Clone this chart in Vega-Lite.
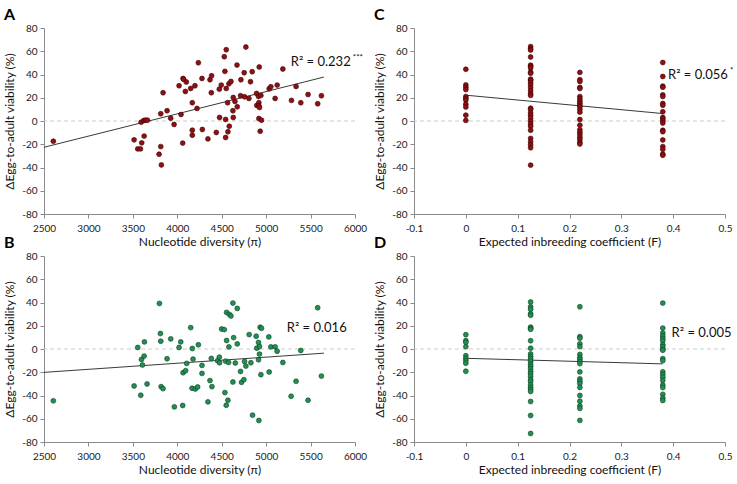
{
  "$schema": "https://vega.github.io/schema/vega-lite/v6.json",
  "padding": {"left": 3, "top": 7, "right": 5, "bottom": 5},
  "background": "white",
  "bounds": "flush",
  "columns": 2,
  "spacing": {"row": 42, "column": 59},
  "datasets": {
    "ptsA": [
      {"pi":2605,"v":-17.4},{"pi":3514,"v":-16.2},{"pi":3555,"v":-24},{"pi":3585,"v":-24},{"pi":3600,"v":-18.8},
      {"pi":3627,"v":-13},{"pi":3593,"v":-1},{"pi":3623,"v":0.4},{"pi":3641,"v":0.7},{"pi":3664,"v":0.7},
      {"pi":3795,"v":-28.6},{"pi":3814,"v":-22},{"pi":3821,"v":-37.8},{"pi":3814,"v":6.2},{"pi":3840,"v":24.3},
      {"pi":3885,"v":8.8},{"pi":3926,"v":2.4},{"pi":3964,"v":-3},{"pi":4020,"v":30.3},{"pi":4042,"v":5.6},
      {"pi":4065,"v":36.6},{"pi":4072,"v":35.8},{"pi":4061,"v":-19},{"pi":4091,"v":25.4},{"pi":4102,"v":33.5},
      {"pi":4151,"v":28},{"pi":4169,"v":15.7},{"pi":4169,"v":-7.9},{"pi":4169,"v":-12.2},{"pi":4199,"v":30.3},
      {"pi":4222,"v":10.8},{"pi":4237,"v":50.1},{"pi":4278,"v":36.6},{"pi":4282,"v":-7.3},{"pi":4345,"v":-15.4},
      {"pi":4368,"v":35.5},{"pi":4386,"v":38.9},{"pi":4383,"v":24.3},{"pi":4439,"v":-9.9},{"pi":4473,"v":27.4},
      {"pi":4476,"v":3},{"pi":4495,"v":30.9},{"pi":4529,"v":55.3},{"pi":4536,"v":42.7},{"pi":4544,"v":1.3},
      {"pi":4544,"v":-14.2},{"pi":4551,"v":61.3},{"pi":4551,"v":28},{"pi":4566,"v":15.7},{"pi":4570,"v":-9.3},
      {"pi":4585,"v":-4.5},{"pi":4581,"v":32},{"pi":4604,"v":34},{"pi":4626,"v":8.8},{"pi":4630,"v":20.2},
      {"pi":4630,"v":3},{"pi":4649,"v":16.8},{"pi":4675,"v":12.2},{"pi":4672,"v":48.1},{"pi":4716,"v":35.5},
      {"pi":4712,"v":21.7},{"pi":4753,"v":41.5},{"pi":4757,"v":20.8},{"pi":4772,"v":63.6},{"pi":4806,"v":19.4},
      {"pi":4824,"v":33.8},{"pi":4843,"v":42.4},{"pi":4892,"v":23.7},{"pi":4895,"v":13.4},{"pi":4918,"v":15.7},
      {"pi":4914,"v":21.1},{"pi":4922,"v":46.4},{"pi":4918,"v":13.1},{"pi":4925,"v":11.6},{"pi":4918,"v":2.1},
      {"pi":4941,"v":22},{"pi":4933,"v":-8.8},{"pi":4948,"v":0.7},{"pi":5034,"v":27.7},{"pi":5053,"v":29.4},
      {"pi":5101,"v":19.4},{"pi":5124,"v":30.9},{"pi":5188,"v":44.7},{"pi":5285,"v":17.7},{"pi":5337,"v":29.7},
      {"pi":5390,"v":15.7},{"pi":5472,"v":22.8},{"pi":5580,"v":14.8},{"pi":5622,"v":21.7}
    ],
    "ptsB": [
      {"pi":2605,"v":-44.6},{"pi":3514,"v":-31.8},{"pi":3555,"v":1.3},{"pi":3589,"v":-39.8},{"pi":3597,"v":-9},
      {"pi":3608,"v":-13.8},{"pi":3627,"v":-6.1},{"pi":3630,"v":6.1},{"pi":3660,"v":-30.1},{"pi":3799,"v":39.2},
      {"pi":3810,"v":13.3},{"pi":3814,"v":6.7},{"pi":3818,"v":-32.4},{"pi":3840,"v":-34.1},{"pi":3885,"v":-8.4},
      {"pi":3926,"v":8.7},{"pi":3967,"v":-49.8},{"pi":4020,"v":1.3},{"pi":4039,"v":6.1},{"pi":4061,"v":-48.6},
      {"pi":4065,"v":-20.4},{"pi":4094,"v":-18.7},{"pi":4106,"v":-12.4},{"pi":4151,"v":18.4},{"pi":4166,"v":-33.8},
      {"pi":4169,"v":0.4},{"pi":4177,"v":-8.7},{"pi":4203,"v":-34.4},{"pi":4229,"v":-32.7},{"pi":4237,"v":3.6},
      {"pi":4278,"v":-14.1},{"pi":4278,"v":-21},{"pi":4345,"v":-45.5},{"pi":4368,"v":-27.2},{"pi":4383,"v":-8.1},
      {"pi":4390,"v":-32.4},{"pi":4454,"v":-10.1},{"pi":4473,"v":-7},{"pi":4476,"v":-11.8},{"pi":4499,"v":17.2},
      {"pi":4529,"v":16.7},{"pi":4536,"v":-37.5},{"pi":4544,"v":-10.4},{"pi":4551,"v":-48.4},{"pi":4555,"v":7.3},
      {"pi":4555,"v":31.5},{"pi":4570,"v":-44.1},{"pi":4577,"v":-11.6},{"pi":4581,"v":1.8},{"pi":4585,"v":29.8},
      {"pi":4604,"v":28.4},{"pi":4626,"v":-28.4},{"pi":4626,"v":39.5},{"pi":4634,"v":9.8},{"pi":4653,"v":-12.1},
      {"pi":4675,"v":34.9},{"pi":4675,"v":4.4},{"pi":4712,"v":-19.3},{"pi":4723,"v":-28.7},{"pi":4749,"v":-26.4},
      {"pi":4757,"v":-10.7},{"pi":4772,"v":-14.7},{"pi":4809,"v":12.4},{"pi":4828,"v":-11.8},{"pi":4847,"v":-56.9},
      {"pi":4888,"v":11},{"pi":4895,"v":0.7},{"pi":4914,"v":-9.3},{"pi":4914,"v":5.6},{"pi":4918,"v":-61.5},
      {"pi":4925,"v":2.1},{"pi":4925,"v":-4.4},{"pi":4933,"v":18.7},{"pi":4948,"v":17.8},{"pi":4941,"v":-22.1},
      {"pi":5030,"v":10.4},{"pi":5053,"v":1.8},{"pi":5034,"v":-19.8},{"pi":5101,"v":1.8},{"pi":5124,"v":-1.9},
      {"pi":5188,"v":-11.6},{"pi":5281,"v":-40.7},{"pi":5337,"v":-27.8},{"pi":5390,"v":-1.3},{"pi":5472,"v":-44.1},
      {"pi":5580,"v":35.5},{"pi":5622,"v":-23.3}
    ],
    "ptsC": [
      {"F":0,"v":44.5},{"F":0,"v":31},{"F":0,"v":29},{"F":0,"v":27},{"F":0,"v":21},{"F":0,"v":19.5},{"F":0,"v":18},{"F":0,"v":14.5},{"F":0,"v":12},{"F":0,"v":5},{"F":0,"v":0.5},
      {"F":0.125,"v":64},{"F":0.125,"v":62},{"F":0.125,"v":61},{"F":0.125,"v":55},{"F":0.125,"v":48},{"F":0.125,"v":47},{"F":0.125,"v":45.5},{"F":0.125,"v":42},{"F":0.125,"v":41},{"F":0.125,"v":36},
      {"F":0.125,"v":35},{"F":0.125,"v":33},{"F":0.125,"v":31},{"F":0.125,"v":28.5},{"F":0.125,"v":26},{"F":0.125,"v":23.5},{"F":0.125,"v":22},{"F":0.125,"v":11},{"F":0.125,"v":10},{"F":0.125,"v":7},
      {"F":0.125,"v":5},{"F":0.125,"v":2.5},{"F":0.125,"v":0},{"F":0.125,"v":-2.5},{"F":0.125,"v":-4.5},{"F":0.125,"v":-8},{"F":0.125,"v":-15},{"F":0.125,"v":-18},{"F":0.125,"v":-20.5},{"F":0.125,"v":-23},{"F":0.125,"v":-38},
      {"F":0.22,"v":41.8},{"F":0.22,"v":35.5},{"F":0.22,"v":34},{"F":0.22,"v":28.8},{"F":0.22,"v":28},{"F":0.22,"v":21},{"F":0.22,"v":19},{"F":0.22,"v":17},{"F":0.22,"v":15.3},{"F":0.22,"v":13.6},{"F":0.22,"v":12.2},
      {"F":0.22,"v":9.9},{"F":0.22,"v":7.6},{"F":0.22,"v":1.3},{"F":0.22,"v":-3.6},{"F":0.22,"v":-7.6},{"F":0.22,"v":-9.6},{"F":0.22,"v":-11.6},{"F":0.22,"v":-13.9},{"F":0.22,"v":-15.9},{"F":0.22,"v":-18.2},{"F":0.22,"v":-19.8},
      {"F":0.38,"v":50.3},{"F":0.38,"v":38.3},{"F":0.38,"v":30},{"F":0.38,"v":29},{"F":0.38,"v":22.5},{"F":0.38,"v":21},{"F":0.38,"v":15},{"F":0.38,"v":13.5},{"F":0.38,"v":7.9},{"F":0.38,"v":3},
      {"F":0.38,"v":1.8},{"F":0.38,"v":0},{"F":0.38,"v":-1.8},{"F":0.38,"v":-8},{"F":0.38,"v":-9.2},{"F":0.38,"v":-16.3},{"F":0.38,"v":-22},{"F":0.38,"v":-24.4},{"F":0.38,"v":-28.5},{"F":0.38,"v":-29.5}
    ],
    "ptsD": [
      {"F":0,"v":12.3},{"F":0,"v":7.2},{"F":0,"v":5.8},{"F":0,"v":2},{"F":0,"v":-5.8},{"F":0,"v":-8.1},{"F":0,"v":-10},{"F":0,"v":-12.2},{"F":0,"v":-19.1},
      {"F":0.125,"v":40.4},{"F":0.125,"v":36.3},{"F":0.125,"v":34.2},{"F":0.125,"v":30.3},{"F":0.125,"v":29},{"F":0.125,"v":18.8},{"F":0.125,"v":17.8},{"F":0.125,"v":16.9},{"F":0.125,"v":7.1},{"F":0.125,"v":0.6},
      {"F":0.125,"v":-4.3},{"F":0.125,"v":-6.5},{"F":0.125,"v":-8.3},{"F":0.125,"v":-10.5},{"F":0.125,"v":-13},{"F":0.125,"v":-14.8},{"F":0.125,"v":-17},{"F":0.125,"v":-19.3},{"F":0.125,"v":-21.2},{"F":0.125,"v":-23.4},
      {"F":0.125,"v":-26.2},{"F":0.125,"v":-27.9},{"F":0.125,"v":-30.7},{"F":0.125,"v":-33},{"F":0.125,"v":-34.7},{"F":0.125,"v":-36.5},{"F":0.125,"v":-45.2},{"F":0.125,"v":-57.2},{"F":0.125,"v":-72.7},
      {"F":0.22,"v":36.3},{"F":0.22,"v":10.6},{"F":0.22,"v":9.3},{"F":0.22,"v":4.4},{"F":0.22,"v":2},{"F":0.22,"v":-4.7},{"F":0.22,"v":-7.4},{"F":0.22,"v":-9},{"F":0.22,"v":-10.8},{"F":0.22,"v":-12.6},
      {"F":0.22,"v":-19.7},{"F":0.22,"v":-25.7},{"F":0.22,"v":-27.7},{"F":0.22,"v":-29.7},{"F":0.22,"v":-33.1},{"F":0.22,"v":-40},{"F":0.22,"v":-44.9},{"F":0.22,"v":-49},{"F":0.22,"v":-51.1},{"F":0.22,"v":-61.4},
      {"F":0.38,"v":39.5},{"F":0.38,"v":18},{"F":0.38,"v":13.7},{"F":0.38,"v":11.2},{"F":0.38,"v":9},{"F":0.38,"v":7},{"F":0.38,"v":3.8},{"F":0.38,"v":2},{"F":0.38,"v":-0.2},{"F":0.38,"v":-1.1},
      {"F":0.38,"v":-8.3},{"F":0.38,"v":-10},{"F":0.38,"v":-19.7},{"F":0.38,"v":-22},{"F":0.38,"v":-24.3},{"F":0.38,"v":-27},{"F":0.38,"v":-31},{"F":0.38,"v":-33.2},{"F":0.38,"v":-39},{"F":0.38,"v":-42.3},{"F":0.38,"v":-44.3}
    ],
    "fitA": [{"pi":2500,"v":-22.6},{"pi":5650,"v":37.8}],
    "fitB": [{"pi":2500,"v":-20.1},{"pi":5650,"v":-3.6}],
    "fitC": [{"F":0,"v":22.2},{"F":0.38,"v":6.4}],
    "fitD": [{"F":0,"v":-8},{"F":0.38,"v":-12.8}],
    "labA": [{"pi":5277,"v":50.7,"t":"R² = 0.232","s":"***"}],
    "labB": [{"pi":5232,"v":18.4,"t":"R² = 0.016","s":""}],
    "labC": [{"F":0.39,"v":39.2,"t":"R² = 0.056","s":"*"}],
    "labD": [{"F":0.397,"v":13.4,"t":"R² = 0.005","s":""}],
    "zero": [{"v":0}]
  },
  "concat": [
    {
      "width": 311, "height": 186,
      "title": {"text": "A"},
      "layer": [
        {"data": {"name": "zero"}, "mark": {"type": "rule", "color": "#cccccc", "strokeDash": [4, 3], "strokeWidth": 1},
         "encoding": {"y": {"field": "v", "type": "quantitative", "scale": {"domain": [-80, 80], "nice": false},
                 "axis": {"title": "ΔEgg-to-adult viability (%)", "values": [-80,-60,-40,-20,0,20,40,60,80], "tickCount": 10, "labelExpr": "'' + datum.value"}}}},
        {"data": {"name": "fitA"}, "mark": {"type": "line", "color": "#222", "strokeWidth": 0.9},
         "encoding": {"x": {"field": "pi", "type": "quantitative", "scale": {"domain": [2500, 6000], "nice": false, "zero": false},
                 "axis": {"title": "Nucleotide diversity (π)", "values": [2500,3000,3500,4000,4500,5000,5500,6000], "tickCount": 10, "labelExpr": "'' + datum.value"}},
                      "y": {"field": "v", "type": "quantitative"}}},
        {"data": {"name": "ptsA"}, "mark": {"type": "point", "filled": true, "size": 24, "fill": "#8e1014", "stroke": "#3d0000", "strokeWidth": 0.6, "opacity": 1},
         "encoding": {"x": {"field": "pi", "type": "quantitative"}, "y": {"field": "v", "type": "quantitative"}}},
        {"data": {"name": "labA"}, "mark": {"type": "text", "align": "left", "baseline": "middle", "font": "Lato", "fontSize": 13, "color": "#111"},
         "encoding": {"x": {"field": "pi", "type": "quantitative"}, "y": {"field": "v", "type": "quantitative"}, "text": {"field": "t"}}},
        {"data": {"name": "labA"}, "mark": {"type": "text", "align": "left", "baseline": "middle", "font": "Lato", "fontSize": 8, "color": "#111", "dx": 62, "dy": -4},
         "encoding": {"x": {"field": "pi", "type": "quantitative"}, "y": {"field": "v", "type": "quantitative"}, "text": {"field": "s"}}}
      ]
    },
    {
      "width": 311, "height": 186,
      "title": {"text": "C"},
      "layer": [
        {"data": {"name": "zero"}, "mark": {"type": "rule", "color": "#cccccc", "strokeDash": [4, 3], "strokeWidth": 1},
         "encoding": {"y": {"field": "v", "type": "quantitative", "scale": {"domain": [-80, 80], "nice": false},
                 "axis": {"title": "ΔEgg-to-adult viability (%)", "values": [-80,-60,-40,-20,0,20,40,60,80], "tickCount": 10, "labelExpr": "'' + datum.value"}}}},
        {"data": {"name": "fitC"}, "mark": {"type": "line", "color": "#222", "strokeWidth": 0.9},
         "encoding": {"x": {"field": "F", "type": "quantitative", "scale": {"domain": [-0.1, 0.5], "nice": false, "zero": false},
                 "axis": {"title": "Expected inbreeding coefficient (F)", "values": [-0.1,0,0.1,0.2,0.3,0.4,0.5], "tickCount": 10, "labelExpr": "'' + datum.value"}},
                      "y": {"field": "v", "type": "quantitative"}}},
        {"data": {"name": "ptsC"}, "mark": {"type": "point", "filled": true, "size": 24, "fill": "#8e1014", "stroke": "#3d0000", "strokeWidth": 0.6, "opacity": 1},
         "encoding": {"x": {"field": "F", "type": "quantitative"}, "y": {"field": "v", "type": "quantitative"}}},
        {"data": {"name": "labC"}, "mark": {"type": "text", "align": "left", "baseline": "middle", "font": "Lato", "fontSize": 13, "color": "#111"},
         "encoding": {"x": {"field": "F", "type": "quantitative"}, "y": {"field": "v", "type": "quantitative"}, "text": {"field": "t"}}},
        {"data": {"name": "labC"}, "mark": {"type": "text", "align": "left", "baseline": "middle", "font": "Lato", "fontSize": 8, "color": "#111", "dx": 62, "dy": -4},
         "encoding": {"x": {"field": "F", "type": "quantitative"}, "y": {"field": "v", "type": "quantitative"}, "text": {"field": "s"}}}
      ]
    },
    {
      "width": 311, "height": 186,
      "title": {"text": "B"},
      "layer": [
        {"data": {"name": "zero"}, "mark": {"type": "rule", "color": "#cccccc", "strokeDash": [4, 3], "strokeWidth": 1},
         "encoding": {"y": {"field": "v", "type": "quantitative", "scale": {"domain": [-80, 80], "nice": false},
                 "axis": {"title": "ΔEgg-to-adult viability (%)", "values": [-80,-60,-40,-20,0,20,40,60,80], "tickCount": 10, "labelExpr": "'' + datum.value"}}}},
        {"data": {"name": "fitB"}, "mark": {"type": "line", "color": "#222", "strokeWidth": 0.9},
         "encoding": {"x": {"field": "pi", "type": "quantitative", "scale": {"domain": [2500, 6000], "nice": false, "zero": false},
                 "axis": {"title": "Nucleotide diversity (π)", "values": [2500,3000,3500,4000,4500,5000,5500,6000], "tickCount": 10, "labelExpr": "'' + datum.value"}},
                      "y": {"field": "v", "type": "quantitative"}}},
        {"data": {"name": "ptsB"}, "mark": {"type": "point", "filled": true, "size": 24, "fill": "#1f9153", "stroke": "#0b3a1f", "strokeWidth": 0.6, "opacity": 1},
         "encoding": {"x": {"field": "pi", "type": "quantitative"}, "y": {"field": "v", "type": "quantitative"}}},
        {"data": {"name": "labB"}, "mark": {"type": "text", "align": "left", "baseline": "middle", "font": "Lato", "fontSize": 13, "color": "#111"},
         "encoding": {"x": {"field": "pi", "type": "quantitative"}, "y": {"field": "v", "type": "quantitative"}, "text": {"field": "t"}}}
      ]
    },
    {
      "width": 311, "height": 186,
      "title": {"text": "D"},
      "layer": [
        {"data": {"name": "zero"}, "mark": {"type": "rule", "color": "#cccccc", "strokeDash": [4, 3], "strokeWidth": 1},
         "encoding": {"y": {"field": "v", "type": "quantitative", "scale": {"domain": [-80, 80], "nice": false},
                 "axis": {"title": "ΔEgg-to-adult viability (%)", "values": [-80,-60,-40,-20,0,20,40,60,80], "tickCount": 10, "labelExpr": "'' + datum.value"}}}},
        {"data": {"name": "fitD"}, "mark": {"type": "line", "color": "#222", "strokeWidth": 0.9},
         "encoding": {"x": {"field": "F", "type": "quantitative", "scale": {"domain": [-0.1, 0.5], "nice": false, "zero": false},
                 "axis": {"title": "Expected inbreeding coefficient (F)", "values": [-0.1,0,0.1,0.2,0.3,0.4,0.5], "tickCount": 10, "labelExpr": "'' + datum.value"}},
                      "y": {"field": "v", "type": "quantitative"}}},
        {"data": {"name": "ptsD"}, "mark": {"type": "point", "filled": true, "size": 24, "fill": "#1f9153", "stroke": "#0b3a1f", "strokeWidth": 0.6, "opacity": 1},
         "encoding": {"x": {"field": "F", "type": "quantitative"}, "y": {"field": "v", "type": "quantitative"}}},
        {"data": {"name": "labD"}, "mark": {"type": "text", "align": "left", "baseline": "middle", "font": "Lato", "fontSize": 13, "color": "#111"},
         "encoding": {"x": {"field": "F", "type": "quantitative"}, "y": {"field": "v", "type": "quantitative"}, "text": {"field": "t"}}}
      ]
    }
  ],
  "config": {
    "view": {"stroke": null},
    "axis": {"grid": false, "domainColor": "#8a8a8a", "tickColor": "#8a8a8a", "tickSize": 4,
             "labelFont": "Lato", "labelFontSize": 10, "labelColor": "#1a1a1a", "labelFlush": false, "labelBound": false, "labelOverlap": false,
             "titleFont": "Lato", "titleFontSize": 12, "titleFontWeight": "normal", "titleColor": "#111"},
    "axisX": {"labelPadding": 5, "titlePadding": 3},
    "axisY": {"labelPadding": 3, "titlePadding": 5},
    "title": {"font": "Lato", "fontSize": 16, "fontWeight": "bold", "anchor": "start", "frame": "group", "dx": -40, "dy": 4, "offset": 4, "color": "#000"}
  }
}
